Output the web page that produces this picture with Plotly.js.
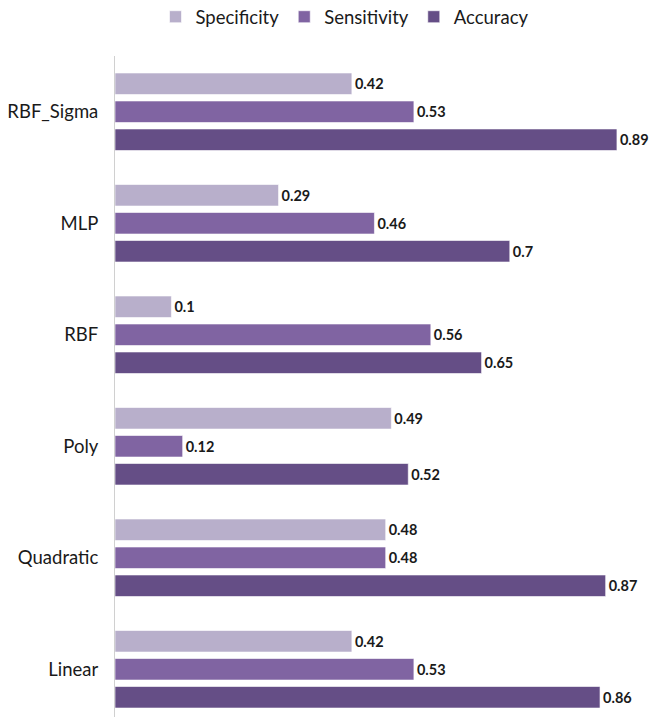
<!DOCTYPE html>
<html>
<head>
<meta charset="utf-8">
<script src="https://cdn.plot.ly/plotly-3.0.1.min.js"></script>
<style>html,body{margin:0;padding:0;background:#fff;}#chart{width:650px;height:717px;}</style>
</head>
<body>
<div id="chart"></div>
<script>
const categories = ['RBF_Sigma', 'MLP', 'RBF', 'Poly', 'Quadratic', 'Linear'];
const specificity = [0.42, 0.29, 0.1, 0.49, 0.48, 0.42];
const sensitivity = [0.53, 0.46, 0.56, 0.12, 0.48, 0.53];
const accuracy = [0.89, 0.7, 0.65, 0.52, 0.87, 0.86];
const seriesNames = ['Specificity', 'Sensitivity', 'Accuracy'];
const seriesColors = ['#b8afcb', '#8064a2', '#654e86'];
const seriesValues = [specificity, sensitivity, accuracy];

const traces = seriesValues.map((vals, i) => ({
  type: 'bar',
  orientation: 'h',
  name: seriesNames[i],
  y: categories,
  x: vals,
  text: vals.map(v => String(v)),
  textposition: 'outside',
  cliponaxis: false,
  constraintext: 'none',
  textfont: {family: 'Lato, "Open Sans", sans-serif', size: 14.5, color: '#1a1a1a', weight: 'bold'},
  marker: {color: seriesColors[i], line: {color: 'rgba(255,255,255,0.6)', width: 1}},
  hoverinfo: 'skip'
}));

const layout = {
  width: 650, height: 717,
  margin: {l: 115, r: 0, t: 56, b: 0},
  paper_bgcolor: '#fff', plot_bgcolor: '#fff',
  barmode: 'group',
  bargap: 0.247,
  bargroupgap: 0.23,
  showlegend: true,
  legend: {
    orientation: 'h', xref: 'container', yref: 'container',
    x: 0.53, xanchor: 'center', y: 0.976, yanchor: 'middle',
    font: {family: 'Lato, "Open Sans", sans-serif', size: 18.5, color: '#1a1a1a'},
    itemwidth: 30, traceorder: 'normal'
  },
  xaxis: {
    range: [0, 0.9486], showgrid: false, zeroline: false, showticklabels: false,
    ticks: '', showline: false, fixedrange: true
  },
  yaxis: {
    type: 'category', categoryorder: 'array', categoryarray: categories,
    range: [5.428, -0.5], autorange: false,
    showgrid: false, zeroline: false, showline: true, linecolor: '#d0d0d0', linewidth: 1,
    ticks: '', ticklabelstandoff: 12,
    tickfont: {family: 'Lato, "Open Sans", sans-serif', size: 18.5, color: '#1a1a1a'},
    fixedrange: true
  }
};

Plotly.newPlot('chart', traces, layout, {displayModeBar: false, staticPlot: true});
</script>
</body>
</html>
